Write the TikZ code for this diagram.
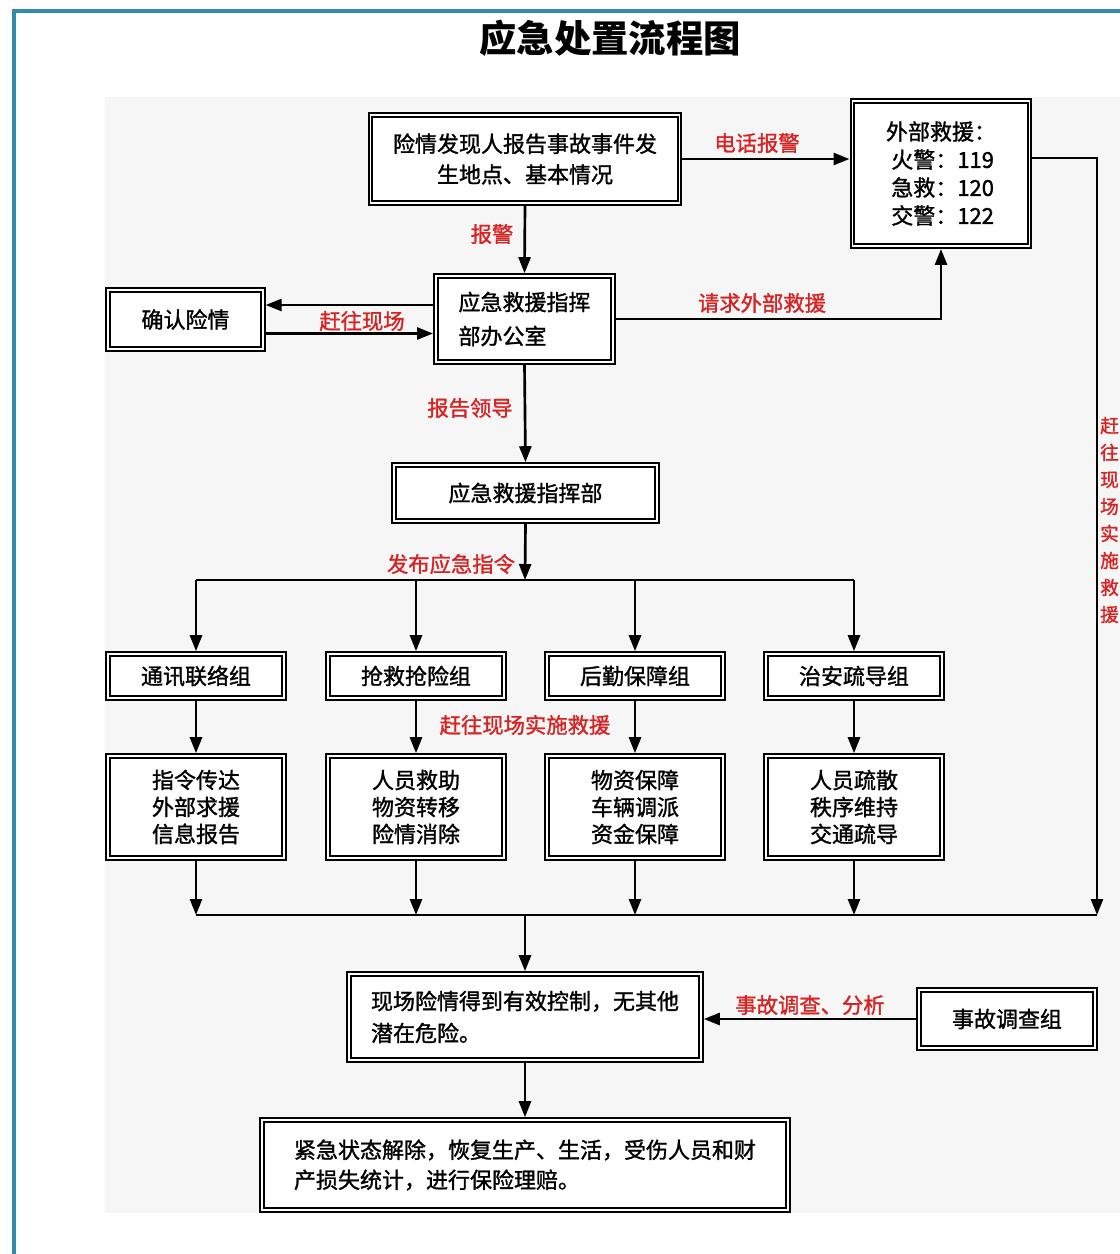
\documentclass[tikz,border=0pt]{standalone}
\usepackage{fontspec}
\setmainfont{Noto Sans CJK SC}[BoldFont=Noto Sans CJK SC, BoldFeatures={FakeBold=1.3}]
\newfontfamily\titlefont{Noto Sans CJK SC}
\usetikzlibrary{arrows.meta}
\definecolor{framec}{RGB}{52,138,168}
\definecolor{labc}{RGB}{215,35,35}
\definecolor{bgc}{RGB}{246,246,246}
\begin{document}
\begin{tikzpicture}[x=0.75pt,y=-0.75pt,
  box/.style={draw=black, line width=1.5pt, double=white, double distance=1.2pt,
    fill=white, inner sep=0pt, outer sep=2.1pt, align=center,
    font=\fontsize{16.5}{22}\selectfont\bfseries},
  lbl/.style={text=labc, font=\fontsize{16}{20}\selectfont\bfseries},
  conn/.style={line width=2pt, -{Triangle[length=12pt,width=9pt]}},
  wire/.style={line width=2pt}]
\useasboundingbox (0,0) rectangle (1120,1254);
\fill[white] (0,0) rectangle (1120,1254);
\begin{scope}
\clip (0,0) rectangle (1120,1254);
\fill[bgc] (105,97) rectangle (1125,1213);
\draw[framec, line width=3pt] (14,1260) -- (14,11) -- (1125,11);
\node[font=\fontsize{28}{30}\titlefont\bfseries] (title) at (610,38) {应急处置流程图};

% boxes
\node[box, minimum width=232pt, minimum height=66pt, font=\fontsize{16.5}{23}\selectfont\bfseries] (b1) at (525,159)
  {险情发现人报告事故事件发\\生地点、基本情况};
\node[box, minimum width=133pt, minimum height=109pt, align=left, font=\fontsize{16.5}{21}\selectfont\bfseries] (ext) at (941,173.5)
  {外部救援：\\\hspace*{4pt}火警：119\\\hspace*{4pt}急救：120\\\hspace*{4pt}交警：122};
\node[box, minimum width=133pt, minimum height=64.5pt, align=left, font=\fontsize{16.5}{25.5}\selectfont\bfseries] (office) at (524.5,319)
  {应急救援指挥\\部办公室};
\node[box, minimum width=116pt, minimum height=44pt] (confirm) at (185.5,319.5) {确认险情};
\node[box, minimum width=197pt, minimum height=42pt] (hq) at (525.5,493) {应急救援指挥部};

\node[box, minimum width=132pt, minimum height=33pt] (g1) at (196,676) {通讯联络组};
\node[box, minimum width=132pt, minimum height=33pt] (g2) at (416,676) {抢救抢险组};
\node[box, minimum width=132pt, minimum height=33pt] (g3) at (635,676) {后勤保障组};
\node[box, minimum width=132pt, minimum height=33pt] (g4) at (854,676) {治安疏导组};

\node[box, minimum width=132pt, minimum height=76.5pt, font=\fontsize{16.5}{20.25}\selectfont\bfseries] (d1) at (196,807) {指令传达\\外部求援\\信息报告};
\node[box, minimum width=132pt, minimum height=76.5pt, font=\fontsize{16.5}{20.25}\selectfont\bfseries] (d2) at (416,807) {人员救助\\物资转移\\险情消除};
\node[box, minimum width=132pt, minimum height=76.5pt, font=\fontsize{16.5}{20.25}\selectfont\bfseries] (d3) at (635,807) {物资保障\\车辆调派\\资金保障};
\node[box, minimum width=132pt, minimum height=76.5pt, font=\fontsize{16.5}{20.25}\selectfont\bfseries] (d4) at (854,807) {人员疏散\\秩序维持\\交通疏导};

\node[box, minimum width=264pt, minimum height=64.5pt, align=left, font=\fontsize{16.5}{24}\selectfont\bfseries] (site) at (525,1017)
  {现场险情得到有效控制，无其他\\潜在危险。};
\node[box, minimum width=132pt, minimum height=43.5pt] (inv) at (1007,1019) {事故调查组};
\node[box, minimum width=394.5pt, minimum height=67.5pt, align=left, font=\fontsize{16.5}{22.5}\selectfont\bfseries] (final) at (525,1165)
  {紧急状态解除，恢复生产、生活，受伤人员和财\\产损失统计，进行保险理赔。};

% coordinates
\coordinate (bus1) at (525,580);
\coordinate (bus2) at (525,915);
\coordinate (busR) at (1097,915);

% connectors
\draw[conn] (b1.east) -- (b1.east -| ext.west);
\draw[conn] (b1.south) -- (office.north);
\draw[conn] ([yshift=10.5pt]office.west) -- ([yshift=10.5pt]office.west -| confirm.east);
\draw[conn] ([yshift=-10.5pt]confirm.east) -- ([yshift=-10.5pt]confirm.east -| office.west);
\draw[conn] (office.east) -| (ext.south);
\draw[conn] ([yshift=11.6pt]ext.east) -| (busR);
\draw[conn] (office.south) -- (hq.north);
\draw[conn] (hq.south) -- (bus1);
\draw[wire] (g1.north |- bus1) -- (g4.north |- bus1);
\foreach \g in {g1,g2,g3,g4} {\draw[conn] (\g.north |- bus1) -- (\g.north);}
\draw[conn] (g1.south) -- (d1.north);
\draw[conn] (g2.south) -- (d2.north);
\draw[conn] (g3.south) -- (d3.north);
\draw[conn] (g4.south) -- (d4.north);
\foreach \d in {d1,d2,d3,d4} {\draw[conn] (\d.south) -- (\d.south |- bus2);}
\draw[wire] (d1.south |- bus2) -- (busR);
\draw[conn] (bus2) -- (site.north);
\draw[conn] (inv.west) -- (inv.west -| site.east);
\draw[conn] (site.south) -- (final.north);

% labels
\node[lbl] (l1) at (757,143) {电话报警};
\node[lbl] (l2) at (492,234) {报警};
\node[lbl] (l3) at (362,321) {赶往现场};
\node[lbl] (l4) at (762,303) {请求外部救援};
\node[lbl] (l5) at (470,408) {报告领导};
\node[lbl] (l6) at (451,564) {发布应急指令};
\node[lbl] (l7) at (525,725) {赶往现场实施救援};
\node[lbl] (l8) at (810,1005) {事故调查、分析};
\node[lbl, align=center, font=\fontsize{14}{20.25}\selectfont\bfseries] (l9) at (1109.5,520) {赶\\往\\现\\场\\实\\施\\救\\援};
\end{scope}
\end{tikzpicture}
\end{document}
